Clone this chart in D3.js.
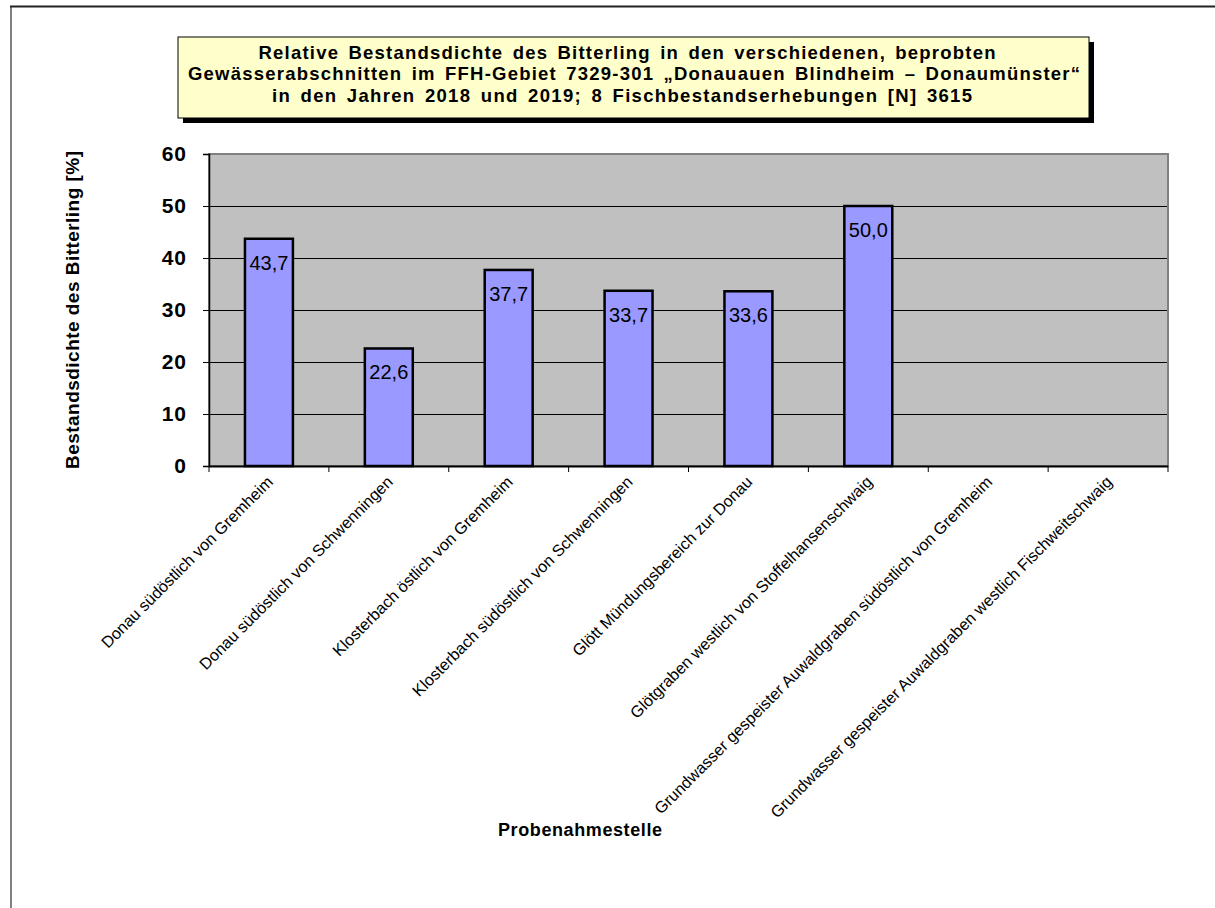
<!DOCTYPE html>
<html>
<head>
<meta charset="utf-8">
<script src="https://cdn.jsdelivr.net/npm/d3@7"></script>
<style>
  body { margin: 0; background: #fff; }
  svg text { font-family: Arial, "Liberation Sans", sans-serif; }
</style>
</head>
<body>
<div id="chart"></div>
<script>
var width = 1215;
var height = 908;

// data
var sites = [
    "Donau südöstlich von Gremheim",
    "Donau südöstlich von Schwenningen",
    "Klosterbach östlich von Gremheim",
    "Klosterbach südöstlich von Schwenningen",
    "Glött Mündungsbereich zur Donau",
    "Glötgraben westlich von Stoffelhansenschwaig",
    "Grundwasser gespeister Auwaldgraben südöstlich von Gremheim",
    "Grundwasser gespeister Auwaldgraben westlich Fischweitschwaig"
];
var density = [43.7, 22.6, 37.7, 33.7, 33.6, 50.0, null, null];
var yTicks = [0, 10, 20, 30, 40, 50, 60];
var titleLines = [
    "Relative Bestandsdichte des Bitterling in den verschiedenen, beprobten",
    "Gewässerabschnitten im FFH-Gebiet 7329-301 „Donauauen Blindheim – Donaumünster“",
    "in den Jahren 2018 und 2019; 8 Fischbestandserhebungen [N] 3615"
];
var yTitle = "Bestandsdichte des Bitterling [%]";
var xTitle = "Probenahmestelle";

var plot = {left: 209, top: 154, right: 1168, bottom: 466};

var svg = d3.select("#chart").append("svg")
    .attr("width", width)
    .attr("height", height);

// outer frame
svg.append("line").attr("x1", 11).attr("y1", 6).attr("x2", 11).attr("y2", height)
    .attr("stroke", "#808080").attr("stroke-width", 2);
svg.append("line").attr("x1", 10).attr("y1", 6.5).attr("x2", width).attr("y2", 6.5)
    .attr("stroke", "#222").attr("stroke-width", 2);

var x = d3.scaleBand().domain(sites).range([plot.left, plot.right]).paddingInner(0.6).paddingOuter(0.3);
var xOuter = d3.scaleBand().domain(sites).range([plot.left, plot.right]);
var y = d3.scaleLinear().domain([0, 60]).range([plot.bottom, plot.top]);

// plot background
svg.append("rect")
    .attr("x", plot.left).attr("y", plot.top)
    .attr("width", plot.right - plot.left).attr("height", plot.bottom - plot.top)
    .attr("fill", "#c0c0c0");

// gridlines
svg.append("g").selectAll("line")
    .data(yTicks.filter(d => d > 0 && d < 60)).enter().append("line")
    .attr("x1", plot.left).attr("x2", plot.right)
    .attr("y1", d => Math.round(y(d)) + 0.5).attr("y2", d => Math.round(y(d)) + 0.5)
    .attr("stroke", "#000").attr("stroke-width", 1);

// plot border
svg.append("rect")
    .attr("x", plot.left).attr("y", plot.top)
    .attr("width", plot.right - plot.left).attr("height", plot.bottom - plot.top)
    .attr("fill", "none").attr("stroke", "#808080").attr("stroke-width", 2);

// bars
var barData = sites.map((s, i) => ({site: s, value: density[i]})).filter(d => d.value != null);
svg.append("g").selectAll("rect")
    .data(barData).enter().append("rect")
    .attr("x", d => x(d.site))
    .attr("y", d => y(d.value))
    .attr("width", x.bandwidth())
    .attr("height", d => y(0) - y(d.value))
    .attr("fill", "#9999ff")
    .attr("stroke", "#000").attr("stroke-width", 2.5);

// value labels inside bar top
svg.append("g").selectAll("text")
    .data(barData).enter().append("text")
    .attr("x", d => x(d.site) + x.bandwidth() / 2)
    .attr("y", d => y(d.value) + 31)
    .attr("text-anchor", "middle")
    .attr("font-size", "20px")
    .attr("fill", "#000")
    .text(d => d3.format(".1f")(d.value).replace(".", ","));

// y axis
var yAxis = d3.axisLeft(y).tickValues(yTicks).tickSize(6).tickPadding(16).tickFormat(d3.format("d"));
var gy = svg.append("g").attr("transform", "translate(" + plot.left + ",0)").call(yAxis);
gy.select(".domain").attr("stroke", "#000").attr("stroke-width", 1.5);
gy.selectAll(".tick line").attr("stroke", "#000");
gy.selectAll(".tick text")
    .attr("font-size", "21px").attr("font-weight", "bold").attr("fill", "#000")
    .attr("letter-spacing", "1px")
    .style("font-family", "Arial, 'Liberation Sans', sans-serif");

// x axis line and ticks at category boundaries
svg.append("line")
    .attr("x1", plot.left).attr("x2", plot.right)
    .attr("y1", plot.bottom + 0.5).attr("y2", plot.bottom + 0.5)
    .attr("stroke", "#000").attr("stroke-width", 2);
var bounds = sites.map(s => xOuter(s)).concat([plot.right]);
svg.append("g").selectAll("line")
    .data(bounds).enter().append("line")
    .attr("x1", d => d).attr("x2", d => d)
    .attr("y1", plot.bottom).attr("y2", plot.bottom + 6)
    .attr("stroke", "#000").attr("stroke-width", 1);

// category labels, rotated
svg.append("g").selectAll("text")
    .data(sites).enter().append("text")
    .attr("transform", d => "translate(" + (xOuter(d) + xOuter.bandwidth() / 2 + 5) + "," + (plot.bottom + 17) + ") rotate(-45)")
    .attr("text-anchor", "end")
    .attr("font-size", "16.2px")
    .attr("fill", "#000")
    .text(d => d);

// axis titles
svg.append("text")
    .attr("transform", "translate(79,310) rotate(-90)")
    .attr("text-anchor", "middle")
    .attr("font-size", "19px").attr("font-weight", "bold")
    .attr("textLength", 318).attr("lengthAdjust", "spacing")
    .text(yTitle);
svg.append("text")
    .attr("x", 580).attr("y", 836)
    .attr("text-anchor", "middle")
    .attr("font-size", "18px").attr("font-weight", "bold")
    .attr("textLength", 164).attr("lengthAdjust", "spacing")
    .text(xTitle);

// title box with shadow
var box = {x: 178, y: 37, w: 911, h: 81};
var lineWidths = [737, 892, 700];
var lineCenters = [627, 634, 622];
svg.append("rect")
    .attr("x", box.x + 5).attr("y", box.y + 5).attr("width", box.w).attr("height", box.h)
    .attr("fill", "#000");
svg.append("rect")
    .attr("x", box.x).attr("y", box.y).attr("width", box.w).attr("height", box.h)
    .attr("fill", "#ffffcc").attr("stroke", "#000").attr("stroke-width", 1);
svg.append("g").selectAll("text")
    .data(titleLines).enter().append("text")
    .attr("x", (d, i) => lineCenters[i])
    .attr("y", (d, i) => box.y + 22 + i * 21.3)
    .attr("text-anchor", "middle")
    .attr("font-size", "18.5px").attr("font-weight", "bold")
    .attr("word-spacing", "3px")
    .attr("textLength", (d, i) => lineWidths[i]).attr("lengthAdjust", "spacing")
    .text(d => d);
</script>
</body>
</html>
